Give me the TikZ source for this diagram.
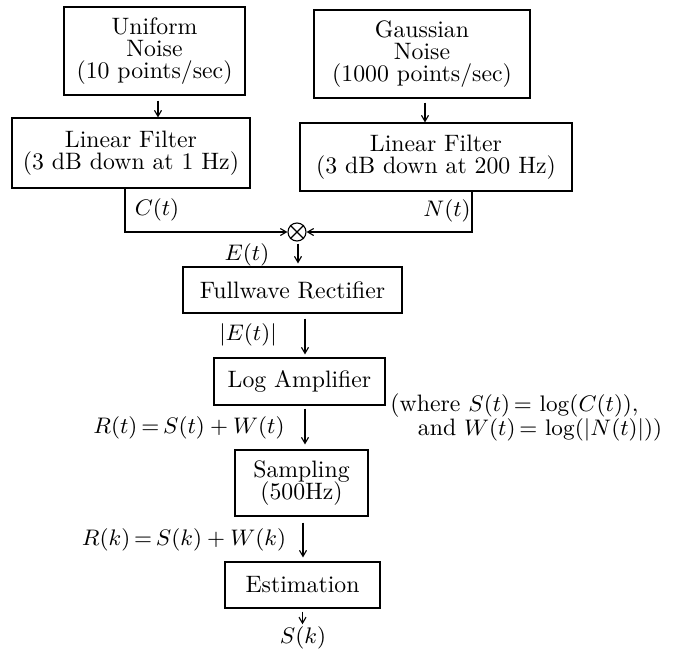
\documentclass[tikz,border=0pt]{standalone}
\usetikzlibrary{arrows.meta,calc}
\tikzset{
  blk/.style={draw,line width=0.45pt,inner sep=0pt,align=center,font=\fontsize{9.5}{8.8}\selectfont},
  arr/.style={line width=0.45pt,-{Straight Barb[length=2.4pt,width=2.8pt]}},
  lbl/.style={inner sep=0pt,font=\fontsize{9.5}{8.8}\selectfont}}
\begin{document}
\lineskiplimit=-20pt
\begin{tikzpicture}[x=0.4pt,y=-0.4pt]
\useasboundingbox (0,0) rectangle (683,649);
% blocks
\node[blk,minimum width=72.4pt,minimum height=35.2pt] (unif) at (154.5,51) {Uniform\\Noise\\(10 points/sec)};
\node[blk,minimum width=86.4pt,minimum height=35.2pt] (gauss) at (422,54) {Gaussian\\Noise\\(1000 points/sec)};
\node[blk,minimum width=95.2pt,minimum height=28pt] (filt1) at (131,153) {Linear Filter\\(3 dB down at 1 Hz)};
\node[blk,minimum width=108.8pt,minimum height=27.2pt] (filt2) at (436,157) {Linear Filter\\(3 dB down at 200 Hz)};
\node[draw,circle,line width=0.45pt,minimum size=7.2pt,inner sep=0pt] (mult) at (297,232) {};
\draw[line width=0.45pt] (mult.north west) -- (mult.south east) (mult.north east) -- (mult.south west);
\node[blk,minimum width=87.6pt,minimum height=18.4pt] (rect) at (292.5,290) {Fullwave Rectifier};
\node[blk,minimum width=68.4pt,minimum height=18.8pt] (logamp) at (299.5,381.5) {Log Amplifier};
\node[blk,minimum width=53.2pt,minimum height=26.4pt] (samp) at (301.5,483) {Sampling\\(500Hz)};
\node[blk,minimum width=62pt,minimum height=18.4pt] (est) at (302.5,585) {Estimation};
\node[lbl] (sk) at (303,638) {$S(k)$};
% labels
\node[lbl] (ct) at (157,210) {$C(t)$};
\node[lbl] (nt) at (447,211) {$N(t)$};
\node[lbl] (et) at (247,255) {$E(t)$};
\node[lbl] (aet) at (248,335) {$|E(t)|$};
\node[lbl] (rt) at (189,428) {$R(t)\,{=}\,S(t)+W(t)$};
\node[lbl] (rk) at (184,540) {$R(k)\,{=}\,S(k)+W(k)$};
\node[lbl,anchor=west,align=left,font=\fontsize{9.5}{9.6}\selectfont] (where) at (390,417)
  {(where $S(t)\,{=}\,\log(C(t))$,\\\hspace*{11pt}and $W(t)\,{=}\,\log(|N(t)|))$};
% connectors
\coordinate (a1) at ($(unif.south)+(3.5,5)$);
\draw[arr] (a1) -- (a1 |- filt1.north);
\coordinate (a2) at ($(gauss.south)+(3,4)$);
\draw[arr] (a2) -- (a2 |- filt2.north);
\coordinate (c1) at ($(filt1.south)+(-6,0)$);
\draw[arr] (c1) |- (mult);
\coordinate (n1) at ($(filt2.south)+(36,0)$);
\draw[arr] (n1) |- (mult);
\coordinate (m1) at ($(mult.south)+(1,2)$);
\draw[arr] (m1) -- ($(m1 |- rect.north)+(0,-3)$);
\coordinate (r1) at ($(rect.south)+(12.5,5)$);
\draw[arr] (r1) -- ($(r1 |- logamp.north)+(0,-3)$);
\coordinate (l1) at ($(logamp.south)+(5.5,3)$);
\draw[arr] (l1) -- ($(l1 |- samp.north)+(0,-5)$);
\coordinate (s1) at ($(samp.south)+(1.5,6)$);
\draw[arr] (s1) -- ($(s1 |- est.north)+(0,-4)$);
\coordinate (e1) at ($(est.south)+(0,3)$);
\draw[arr] (e1) -- ($(e1 |- sk.north)+(0,-2)$);
\end{tikzpicture}
\end{document}
